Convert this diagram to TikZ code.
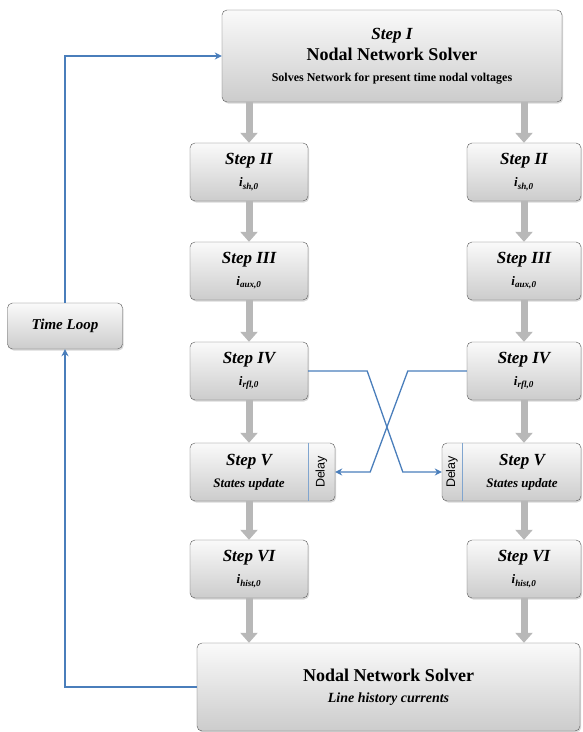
\documentclass[tikz,border=0pt]{standalone}
\usepackage{fontspec}
\setmainfont{Liberation Serif}
\newfontfamily\delayfont{Liberation Sans}
\usetikzlibrary{arrows.meta,calc,shadows}
\definecolor{loopblue}{HTML}{4A7EBB}
\definecolor{flowgray}{HTML}{B8B8B8}
\tikzset{box/.style={draw=black!65,rounded corners=5pt,top color=black!2,bottom color=black!20,drop shadow={opacity=0.3,shadow xshift=1.2pt,shadow yshift=-1.5pt},align=center,inner sep=2pt},stepbox/.style={box,minimum height=58pt},head/.style={font=\bfseries\itshape\fontsize{17}{22}\selectfont},flow/.style={draw=flowgray,line width=7pt,-{Triangle[length=10pt,width=17pt]}},link/.style={draw=loopblue,line width=1.3pt,-{Stealth[length=7pt,width=7pt]}}}
\newcommand{\cur}[1]{{\fontsize{13}{15}\selectfont i\textsubscript{#1}}}

\begin{document}
\begin{tikzpicture}[x=1pt,y=-1pt]
\useasboundingbox (0,0) rectangle (582,732);
\node[box,minimum width=340pt,minimum height=92pt,font=\bfseries\fontsize{18}{21}\selectfont] (top) at (392,56) {{\itshape\fontsize{17}{20}\selectfont Step I}\\Nodal Network Solver\\{\fontsize{12}{13}\selectfont Solves Network for present time nodal voltages}};
\node[box,minimum width=383pt,minimum height=88pt,font=\bfseries\fontsize{18}{21}\selectfont] (bot) at (388.5,687) {Nodal Network Solver\\{\itshape\fontsize{14}{16}\selectfont Line history currents}};
\node[box,minimum width=115pt,minimum height=46pt,font=\bfseries\itshape\fontsize{15}{17}\selectfont] (loop) at (65,326) {Time Loop};
\foreach \c/\x/\w in {l/249/118,r/524/114}{
\node[stepbox,head,minimum width=\w pt] (s2\c) at (\x,172) {Step II\\\cur{sh,0}};
\node[stepbox,head,minimum width=\w pt] (s3\c) at (\x,271) {Step III\\\cur{aux,0}};
\node[stepbox,head,minimum width=\w pt] (s4\c) at (\x,371) {Step IV\\\cur{rfl,0}};
\node[stepbox,head,minimum width=\w pt] (s6\c) at (\x,569) {Step VI\\\cur{hist,0}};
}
% step V boxes with the delay strip
\node[stepbox,minimum width=145pt] (s5l) at (262.5,472) {};
\node[stepbox,minimum width=139pt] (s5r) at (511.5,472) {};
\node[head,align=center] (s5lt) at (249,472) {Step V\\{\fontsize{13}{15}\selectfont States update}};
\node[head,align=center] (s5rt) at (522,472) {Step V\\{\fontsize{13}{15}\selectfont States update}};
\node[rotate=90,font=\delayfont\fontsize{12.5}{12}\selectfont] (dl) at (321.5,472) {Delay};
\node[rotate=90,font=\delayfont\fontsize{12.5}{12}\selectfont] (dr) at (452,472) {Delay};
\draw[loopblue!70] ($(s5l.north east)+(-27,0)$)--($(s5l.south east)+(-27,0)$);
\draw[loopblue!70] ($(s5r.north west)+(20,0)$)--($(s5r.south west)+(20,0)$);
\foreach \c in {l,r}{
\draw[flow](top.south -| s2\c.north)--(s2\c.north);
\draw[flow](s2\c)--(s3\c);\draw[flow](s3\c)--(s4\c);
\draw[flow](s4\c.south)--(s4\c.south |- s5\c.north);
\draw[flow](s6\c.north |- s5\c.south)--(s6\c.north);
\draw[flow](s6\c.south)--(s6\c.south |- bot.north);}
\draw[link](loop.north)|-(top.west);
\draw[link](bot.west)-|(loop.south);
\draw[link](s4l.east)--++(59,0)--($(s5r.west)+(-39,0)$)--(s5r.west);
\draw[link](s4r.west)--++(-59,0)--($(s5l.east)+(35,0)$)--(s5l.east);
\end{tikzpicture}
\end{document}
